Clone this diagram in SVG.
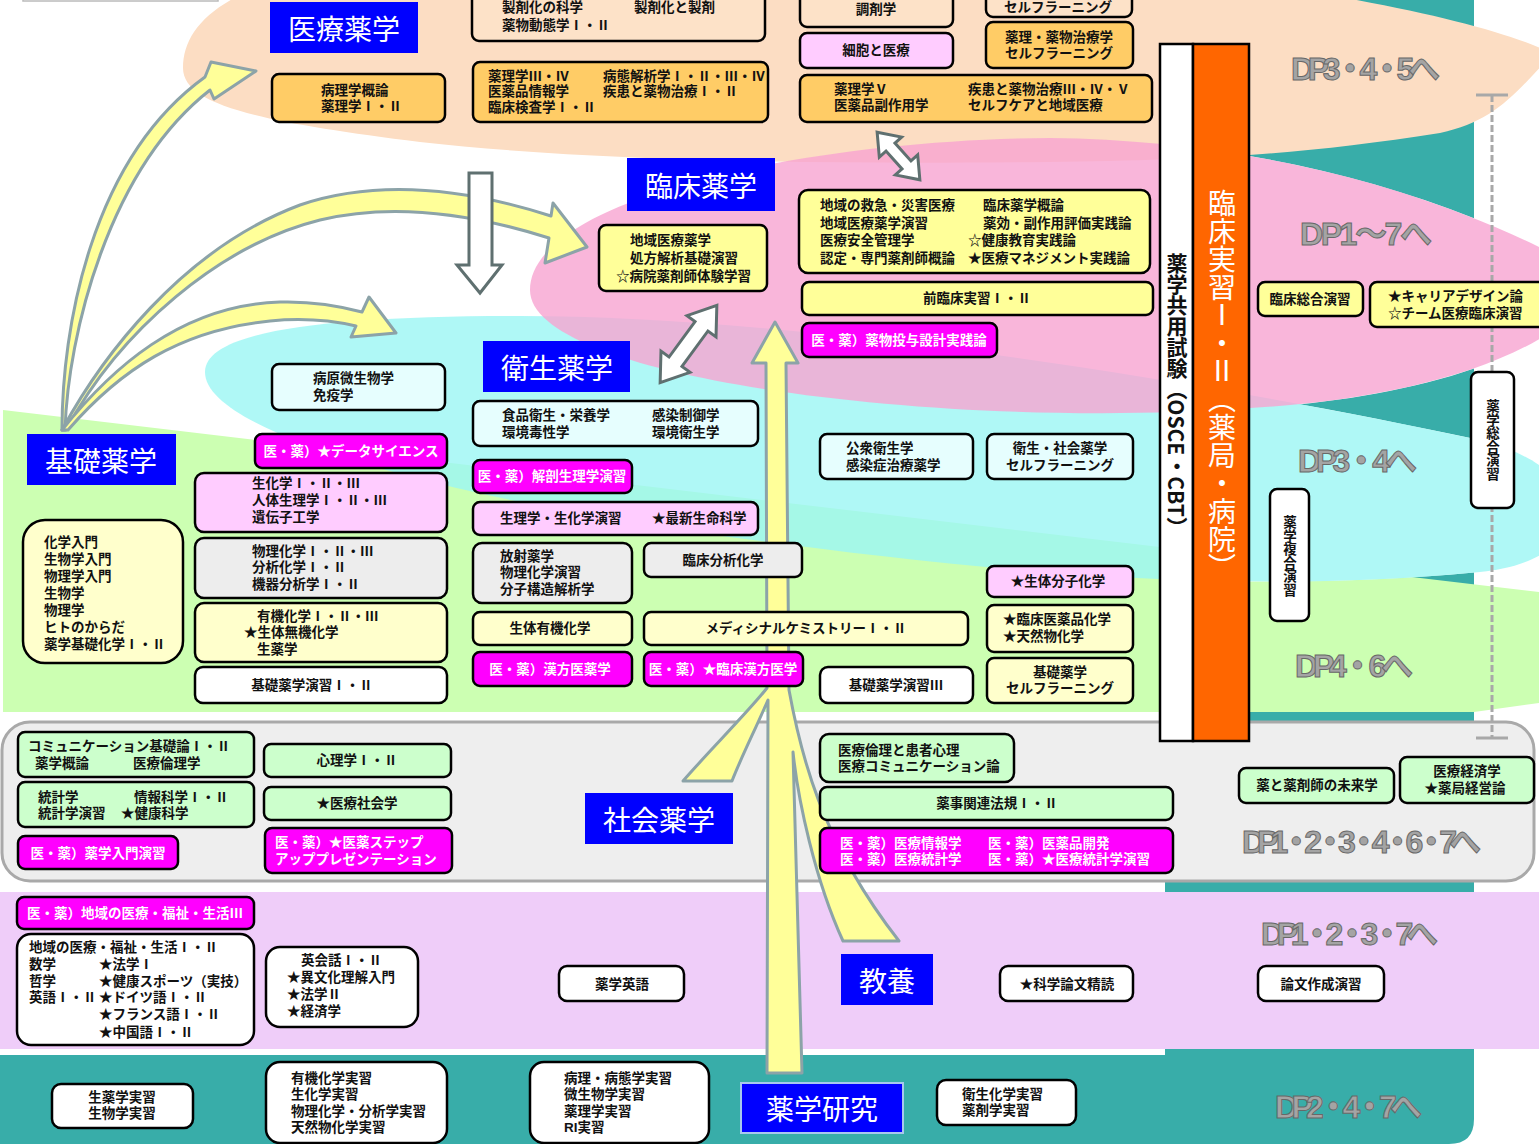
<svg xmlns="http://www.w3.org/2000/svg" width="1539" height="1144" viewBox="0 0 1539 1144">
<style>
.b{stroke:#000;stroke-width:2.5}
.or{fill:#FFCC66}.pe{fill:#FDE2C8}.pk{fill:#FFCCFF}.ye{fill:#FFFF99}.ly{fill:#FFFFCC}.lc{fill:#E6FEFE}.gy{fill:#EDEDED}.lg{fill:#CCFFCC}.wh{fill:#FFFFFF}.mg{fill:#FF00FF}
text{font-family:"Noto Sans CJK JP","Noto Sans CJK SC",sans-serif}
.t{font-family:"Liberation Sans","Noto Sans CJK JP","Noto Sans CJK SC",sans-serif;font-size:13.5px;font-weight:700;fill:#111;dominant-baseline:central}
.w{fill:#fff}
.m{text-anchor:middle}
.cat{fill:#0000FF}
.ct{font-size:28px;fill:#fff;text-anchor:middle;dominant-baseline:central}
.dp{font-family:"Liberation Sans","Noto Sans CJK JP",sans-serif;font-size:32px;font-weight:700;fill:#A4A4A4;stroke:#686868;stroke-width:1}
.ya{fill:#FFFF99;stroke:#8CA3A8;stroke-width:3;stroke-linejoin:round}
.ha{fill:#FFFFFF;stroke:#5F7070;stroke-width:3}
.vt{font-family:"Noto Sans CJK JP","Noto Sans CJK SC",sans-serif;writing-mode:vertical-rl;text-anchor:middle}
</style>
<defs>
  <clipPath id="col"><rect x="1165" y="0" width="309" height="1144"/></clipPath>
  <path id="cyanShape" d="M205,372 C205,330 330,316 520,316 C800,316 1200,380 1480,440 C1600,470 1600,560 1480,572 C1200,600 900,560 700,533 C500,505 205,440 205,372 Z"/>
  <path id="pinkShape" d="M530,290 C530,200 800,140 1050,138 C1250,140 1450,190 1600,280 C1560,360 1400,400 1250,408 C950,430 530,380 530,290 Z"/>
</defs>

<g id="background">
  <path d="M0,1055 H1165 V0 H1474 V1119 Q1474,1144 1449,1144 H0 Z" fill="#38ADA9"/>
  <path d="M3,410 L1539,592 L1539,703 L1474,712 L3,712 Z" fill="#CCFFB2"/>
  <path d="M183,68 C183,40 200,15 240,-5 L1300,-10 C1420,10 1500,30 1545,50 L1545,62 C1510,100 1490,122 1440,133 C1300,155 1200,160 1050,162 C800,165 580,160 420,142 C260,122 183,105 183,68 Z" fill="#FCDDC3"/>
  <g clip-path="url(#col)" fill="#FFFFFF"><use href="#cyanShape"/><use href="#pinkShape"/></g>
  <use href="#cyanShape" fill="#9BF6F4" opacity="0.8"/>
  <use href="#pinkShape" fill="#F7A4D1" opacity="0.8"/>
  <rect x="2" y="722" width="1532" height="159" rx="28" fill="#EEEEEE" stroke="#A9A9A9" stroke-width="3"/>
  <rect x="0" y="892" width="1539" height="157" fill="#EFCDF9"/>
  <rect x="23" y="-20" width="195" height="21" fill="#FFFFFF" stroke="#BBBBBB" stroke-width="1.5"/>
  <g stroke="#A8A8A8" stroke-width="3">
    <line x1="1492" y1="95" x2="1492" y2="738" stroke-dasharray="7 3"/>
    <line x1="1476" y1="95" x2="1508" y2="95"/>
    <line x1="1476" y1="738" x2="1508" y2="738"/>
  </g>
</g>

<g id="connectors">
  <path class="ya" d="M62,430 C62,330 90,160 205,77 L211,62 L256,71 L214,99 L210,90 C108,170 68,335 65,430 Z"/>
  <path class="ya" d="M62,430 C100,360 180,250 300,205 C380,178 470,190 551,216 L553,203 L587,247 L545,263 L549,238 C470,213 390,203 320,220 C220,245 120,330 66,430 Z"/>
  <path class="ya" d="M62,430 C110,370 180,305 280,302 C315,301 340,306 362,312 L369,297 L396,333 L351,337 L356,326 C330,320 300,318 270,321 C180,330 120,370 68,430 Z"/>
  <path class="ya" d="M775,322 L798,363 L786,363 L789,690 C800,750 820,840 899,941 L843,941 C815,880 798,800 793,752 L802,1073 L767,1073 L768,700 C755,730 740,760 732,781 L683,781 C710,750 750,710 767,688 L766,363 L752,363 Z"/>
  <path class="ha" d="M469,173 L492,173 L492,265 L502,265 L480,293 L457,265 L469,265 Z"/>
  <path class="ha" transform="translate(688.5,344) rotate(-53.8)" d="M-48,0 L-22,-18 L-22,-8 L22,-8 L22,-18 L48,0 L22,18 L22,8 L-22,8 L-22,18 Z"/>
  <path class="ha" transform="translate(898.5,156) rotate(48.1)" d="M-32,0 L-12,-15 L-12,-6 L12,-6 L12,-15 L32,0 L12,15 L12,6 L-12,6 L-12,15 Z"/>
</g>

<g id="n-label-iryo"><rect class="cat" x="270" y="2" width="148" height="51"/><text class="ct" x="344" y="28">医療薬学</text></g>
<g id="n-label-rinsho"><rect class="cat" x="627" y="158" width="148" height="53"/><text class="ct" x="701" y="185">臨床薬学</text></g>
<g id="n-label-eisei"><rect class="cat" x="483" y="341" width="147" height="51"/><text class="ct" x="557" y="367">衛生薬学</text></g>
<g id="n-label-kiso"><rect class="cat" x="27" y="434" width="149" height="51"/><text class="ct" x="101" y="460">基礎薬学</text></g>
<g id="n-label-shakai"><rect class="cat" x="585" y="793" width="148" height="51"/><text class="ct" x="659" y="819">社会薬学</text></g>
<g id="n-label-kyoyo"><rect class="cat" x="841" y="954" width="92" height="51"/><text class="ct" x="887" y="980">教養</text></g>
<g id="n-label-kenkyu"><rect class="cat" x="741" y="1083" width="162" height="50" stroke="#A8C8EE" stroke-width="2"/><text class="ct" x="822" y="1108">薬学研究</text></g>

<g id="n-seizai"><rect class="b pe" x="472" y="-14" width="293" height="55" rx="7"/>
<text class="t" x="502" y="7">製剤化の科学<tspan x="502" y="25">薬物動態学Ⅰ・Ⅱ</tspan></text><text class="t" x="634" y="7">製剤化と製剤</text></g>
<g id="n-chozai"><rect class="b pe" x="800" y="-14" width="153" height="41" rx="7"/><text class="t m" x="876" y="9">調剤学</text></g>
<g id="n-self-top"><rect class="b pe" x="986" y="-14" width="146" height="31" rx="7"/><text class="t m" x="1058" y="7">セルフラーニング</text></g>
<g id="n-saibo"><rect class="b pk" x="800" y="33" width="153" height="35" rx="7"/><text class="t m" x="876" y="50">細胞と医療</text></g>
<g id="n-yakuri-self"><rect class="b or" x="986" y="22" width="147" height="46" rx="7"/>
<text class="t m" x="1059" y="37">薬理・薬物治療学<tspan x="1059" y="53">セルフラーニング</tspan></text></g>
<g id="n-byori"><rect class="b or" x="272" y="74" width="173" height="48" rx="7"/>
<text class="t" x="321" y="90">病理学概論<tspan x="321" y="106">薬理学Ⅰ・Ⅱ</tspan></text></g>
<g id="n-yakuri34"><rect class="b or" x="473" y="62" width="295" height="60" rx="7"/>
<text class="t" x="488" y="76">薬理学Ⅲ・Ⅳ<tspan x="488" y="91">医薬品情報学</tspan><tspan x="488" y="107">臨床検査学Ⅰ・Ⅱ</tspan></text>
<text class="t" x="603" y="76">病態解析学Ⅰ・Ⅱ・Ⅲ・Ⅳ<tspan x="603" y="91">疾患と薬物治療Ⅰ・Ⅱ</tspan></text></g>
<g id="n-yakuri5"><rect class="b or" x="800" y="75" width="352" height="47" rx="7"/>
<text class="t" x="834" y="89">薬理学Ⅴ<tspan x="834" y="105">医薬品副作用学</tspan></text>
<text class="t" x="968" y="89">疾患と薬物治療Ⅲ・Ⅳ・Ⅴ<tspan x="968" y="105">セルフケアと地域医療</tspan></text></g>

<g id="n-chiiki-iryo"><rect class="b ye" x="599" y="225" width="168" height="66" rx="7"/>
<text class="t" x="630" y="240">地域医療薬学<tspan x="630" y="258">処方解析基礎演習</tspan><tspan x="616" y="276">☆病院薬剤師体験学習</tspan></text></g>
<g id="n-kyukyu"><rect class="b ye" x="799" y="190" width="351" height="83" rx="9"/>
<text class="t" x="820" y="205">地域の救急・災害医療<tspan x="820" y="223">地域医療薬学演習</tspan><tspan x="820" y="240">医療安全管理学</tspan><tspan x="820" y="258">認定・専門薬剤師概論</tspan></text>
<text class="t" x="983" y="205">臨床薬学概論<tspan x="983" y="223">薬効・副作用評価実践論</tspan><tspan x="968" y="240">☆健康教育実践論</tspan><tspan x="968" y="258">★医療マネジメント実践論</tspan></text></g>
<g id="n-zenrinsho"><rect class="b ye" x="802" y="282" width="351" height="33" rx="7"/><text class="t m" x="977" y="298">前臨床実習Ⅰ・Ⅱ</text></g>
<g id="n-toyo"><rect class="b mg" x="802" y="323" width="195" height="34" rx="7"/><text class="t m w" x="899" y="340">医・薬）薬物投与設計実践論</text></g>
<g id="n-rinsho-sogo"><rect class="b ye" x="1258" y="282" width="105" height="34" rx="7"/><text class="t m" x="1310" y="299">臨床総合演習</text></g>
<g id="n-career"><rect class="b ye" x="1370" y="282" width="185" height="45" rx="7"/>
<text class="t" x="1388" y="296">★キャリアデザイン論<tspan x="1388" y="313">☆チーム医療臨床演習</tspan></text></g>

<g id="n-byogen"><rect class="b lc" x="272" y="364" width="173" height="46" rx="7"/>
<text class="t" x="313" y="378">病原微生物学<tspan x="313" y="395">免疫学</tspan></text></g>
<g id="n-shokuhin"><rect class="b lc" x="473" y="401" width="285" height="45" rx="7"/>
<text class="t" x="502" y="415">食品衛生・栄養学<tspan x="502" y="432">環境毒性学</tspan></text>
<text class="t" x="652" y="415">感染制御学<tspan x="652" y="432">環境衛生学</tspan></text></g>
<g id="n-kaibo"><rect class="b mg" x="473" y="460" width="159" height="33" rx="7"/><text class="t m w" x="552" y="476">医・薬）解剖生理学演習</text></g>
<g id="n-koshu"><rect class="b lc" x="820" y="434" width="153" height="45" rx="7"/>
<text class="t" x="846" y="448">公衆衛生学<tspan x="846" y="465">感染症治療薬学</tspan></text></g>
<g id="n-eisei-self"><rect class="b lc" x="987" y="434" width="146" height="45" rx="7"/>
<text class="t m" x="1060" y="448">衛生・社会薬学<tspan x="1060" y="465">セルフラーニング</tspan></text></g>
<g id="n-data"><rect class="b mg" x="255" y="434" width="192" height="34" rx="7"/><text class="t m w" x="351" y="451">医・薬）★データサイエンス</text></g>

<g id="n-seika"><rect class="b pk" x="195" y="473" width="252" height="59" rx="9"/>
<text class="t" x="252" y="483">生化学Ⅰ・Ⅱ・Ⅲ<tspan x="252" y="500">人体生理学Ⅰ・Ⅱ・Ⅲ</tspan><tspan x="252" y="517">遺伝子工学</tspan></text></g>
<g id="n-seiri-en"><rect class="b pk" x="473" y="502" width="285" height="33" rx="7"/>
<text class="t" x="500" y="518">生理学・生化学演習</text><text class="t" x="652" y="518">★最新生命科学</text></g>
<g id="n-butsuri"><rect class="b gy" x="195" y="538" width="252" height="60" rx="9"/>
<text class="t" x="252" y="551">物理化学Ⅰ・Ⅱ・Ⅲ<tspan x="252" y="567">分析化学Ⅰ・Ⅱ</tspan><tspan x="252" y="584">機器分析学Ⅰ・Ⅱ</tspan></text></g>
<g id="n-hosha"><rect class="b gy" x="473" y="543" width="159" height="60" rx="9"/>
<text class="t" x="500" y="556">放射薬学<tspan x="500" y="572">物理化学演習</tspan><tspan x="500" y="589">分子構造解析学</tspan></text></g>
<g id="n-rinsho-bunseki"><rect class="b gy" x="644" y="543" width="158" height="34" rx="7"/><text class="t m" x="723" y="560">臨床分析化学</text></g>
<g id="n-yuki"><rect class="b ly" x="195" y="603" width="252" height="59" rx="9"/>
<text class="t" x="257" y="616">有機化学Ⅰ・Ⅱ・Ⅲ<tspan x="244" y="632">★生体無機化学</tspan><tspan x="257" y="649">生薬学</tspan></text></g>
<g id="n-kiso-en12"><rect class="b wh" x="195" y="667" width="252" height="36" rx="8"/><text class="t m" x="312" y="685">基礎薬学演習Ⅰ・Ⅱ</text></g>
<g id="n-nyumon"><rect class="b ly" x="23" y="520" width="160" height="143" rx="22"/>
<text class="t" x="44" y="542">化学入門<tspan x="44" y="559">生物学入門</tspan><tspan x="44" y="576">物理学入門</tspan><tspan x="44" y="593">生物学</tspan><tspan x="44" y="610">物理学</tspan><tspan x="44" y="627">ヒトのからだ</tspan><tspan x="44" y="644">薬学基礎化学Ⅰ・Ⅱ</tspan></text></g>
<g id="n-seitai-yuki"><rect class="b ly" x="473" y="612" width="159" height="33" rx="7"/><text class="t m" x="550" y="628">生体有機化学</text></g>
<g id="n-medicinal"><rect class="b ly" x="644" y="612" width="324" height="33" rx="7"/><text class="t m" x="806" y="628">メディシナルケミストリーⅠ・Ⅱ</text></g>
<g id="n-kampo"><rect class="b mg" x="473" y="652" width="159" height="34" rx="7"/><text class="t m w" x="550" y="669">医・薬）漢方医薬学</text></g>
<g id="n-rinsho-kampo"><rect class="b mg" x="644" y="652" width="159" height="34" rx="7"/><text class="t m w" x="723" y="669">医・薬）★臨床漢方医学</text></g>
<g id="n-kiso-en3"><rect class="b wh" x="820" y="667" width="153" height="36" rx="8"/><text class="t m" x="896" y="685">基礎薬学演習Ⅲ</text></g>
<g id="n-seitai-bunshi"><rect class="b pk" x="987" y="566" width="146" height="31" rx="7"/><text class="t m" x="1058" y="581">★生体分子化学</text></g>
<g id="n-rinsho-iyakuhin"><rect class="b ly" x="987" y="605" width="146" height="47" rx="7"/>
<text class="t" x="1003" y="619">★臨床医薬品化学<tspan x="1003" y="636">★天然物化学</tspan></text></g>
<g id="n-kiso-self"><rect class="b ly" x="987" y="658" width="146" height="45" rx="7"/>
<text class="t m" x="1060" y="672">基礎薬学<tspan x="1060" y="688">セルフラーニング</tspan></text></g>
<g id="n-fukugo"><rect class="b wh" x="1270" y="489" width="39" height="132" rx="7"/><text class="vt" x="1290" y="556" style="font-size:13.5px;font-weight:700;fill:#111">薬学複合演習</text></g>
<g id="n-sogo-en"><rect class="b wh" x="1471" y="372" width="43" height="136" rx="7"/><text class="vt" x="1493" y="440" style="font-size:13.5px;font-weight:700;fill:#111">薬学総合演習</text></g>

<g id="n-comm"><rect class="b lg" x="18" y="732" width="236" height="45" rx="7"/>
<text class="t" x="28" y="746">コミュニケーション基礎論Ⅰ・Ⅱ<tspan x="35" y="763">薬学概論</tspan></text><text class="t" x="133" y="763">医療倫理学</text></g>
<g id="n-tokei"><rect class="b lg" x="18" y="782" width="236" height="45" rx="7"/>
<text class="t" x="38" y="797">統計学<tspan x="38" y="813">統計学演習</tspan></text>
<text class="t" x="134" y="797">情報科学Ⅰ・Ⅱ<tspan x="121" y="813">★健康科学</tspan></text></g>
<g id="n-nyumon-en"><rect class="b mg" x="18" y="836" width="160" height="33" rx="7"/><text class="t m w" x="98" y="853">医・薬）薬学入門演習</text></g>
<g id="n-shinri"><rect class="b lg" x="264" y="744" width="187" height="33" rx="7"/><text class="t m" x="357" y="760">心理学Ⅰ・Ⅱ</text></g>
<g id="n-iryo-shakai"><rect class="b lg" x="264" y="787" width="187" height="33" rx="7"/><text class="t m" x="357" y="803">★医療社会学</text></g>
<g id="n-step"><rect class="b mg" x="265" y="828" width="187" height="45" rx="7"/>
<text class="t w" x="275" y="842">医・薬）★医薬ステップ<tspan x="275" y="859">アッププレゼンテーション</tspan></text></g>
<g id="n-rinri"><rect class="b lg" x="820" y="734" width="194" height="48" rx="9"/>
<text class="t" x="838" y="750">医療倫理と患者心理<tspan x="838" y="766">医療コミュニケーション論</tspan></text></g>
<g id="n-hoki"><rect class="b lg" x="820" y="787" width="353" height="33" rx="7"/><text class="t m" x="997" y="803">薬事関連法規Ⅰ・Ⅱ</text></g>
<g id="n-joho"><rect class="b mg" x="820" y="828" width="353" height="45" rx="7"/>
<text class="t w" x="840" y="843">医・薬）医療情報学<tspan x="840" y="859">医・薬）医療統計学</tspan></text>
<text class="t w" x="988" y="843">医・薬）医薬品開発<tspan x="988" y="859">医・薬）★医療統計学演習</tspan></text></g>
<g id="n-mirai"><rect class="b lg" x="1239" y="768" width="155" height="35" rx="7"/><text class="t m" x="1317" y="785">薬と薬剤師の未来学</text></g>
<g id="n-keizai"><rect class="b lg" x="1400" y="757" width="134" height="46" rx="7"/>
<text class="t m" x="1467" y="771">医療経済学<tspan x="1465" y="788">★薬局経営論</tspan></text></g>

<g id="n-chiiki3"><rect class="b mg" x="17" y="897" width="237" height="32" rx="7"/><text class="t w" x="27" y="913">医・薬）地域の医療・福祉・生活Ⅲ</text></g>
<g id="n-kyoyo-list"><rect class="b wh" x="17" y="934" width="237" height="111" rx="14"/>
<text class="t" x="29" y="947">地域の医療・福祉・生活Ⅰ・Ⅱ<tspan x="29" y="964">数学</tspan><tspan x="29" y="981">哲学</tspan><tspan x="29" y="997">英語Ⅰ・Ⅱ</tspan></text>
<text class="t" x="99" y="964">★法学Ⅰ<tspan x="99" y="981">★健康スポーツ（実技）</tspan><tspan x="99" y="997">★ドイツ語Ⅰ・Ⅱ</tspan><tspan x="99" y="1014">★フランス語Ⅰ・Ⅱ</tspan><tspan x="99" y="1032">★中国語Ⅰ・Ⅱ</tspan></text></g>
<g id="n-eikaiwa"><rect class="b wh" x="266" y="947" width="152" height="80" rx="14"/>
<text class="t" x="301" y="960">英会話Ⅰ・Ⅱ<tspan x="287" y="977">★異文化理解入門</tspan><tspan x="287" y="994">★法学Ⅱ</tspan><tspan x="287" y="1011">★経済学</tspan></text></g>
<g id="n-yakugaku-eigo"><rect class="b wh" x="559" y="966" width="125" height="35" rx="8"/><text class="t m" x="622" y="984">薬学英語</text></g>
<g id="n-ronbun-seidoku"><rect class="b wh" x="1000" y="966" width="133" height="35" rx="8"/><text class="t m" x="1067" y="984">★科学論文精読</text></g>
<g id="n-ronbun-sakusei"><rect class="b wh" x="1258" y="966" width="126" height="35" rx="8"/><text class="t m" x="1321" y="984">論文作成演習</text></g>

<g id="n-shoyaku-jisshu"><rect class="b wh" x="52" y="1084" width="141" height="44" rx="9"/>
<text class="t m" x="122" y="1097">生薬学実習<tspan x="122" y="1113">生物学実習</tspan></text></g>
<g id="n-yuki-jisshu"><rect class="b wh" x="266" y="1062" width="181" height="81" rx="14"/>
<text class="t" x="291" y="1078">有機化学実習<tspan x="291" y="1094">生化学実習</tspan><tspan x="291" y="1111">物理化学・分析学実習</tspan><tspan x="291" y="1127">天然物化学実習</tspan></text></g>
<g id="n-byori-jisshu"><rect class="b wh" x="530" y="1062" width="179" height="81" rx="14"/>
<text class="t" x="564" y="1078">病理・病態学実習<tspan x="564" y="1094">微生物学実習</tspan><tspan x="564" y="1111">薬理学実習</tspan><tspan x="564" y="1127">RI実習</tspan></text></g>
<g id="n-eisei-jisshu"><rect class="b wh" x="937" y="1080" width="139" height="45" rx="9"/>
<text class="t" x="962" y="1094">衛生化学実習<tspan x="962" y="1110">薬剤学実習</tspan></text></g>

<g id="n-kyoyo-shiken"><rect x="1160" y="44" width="33" height="697" fill="#FFFFFF" stroke="#000" stroke-width="2.5"/>
<text class="vt" x="1177" y="395" style="font-size:21px;font-weight:700;fill:#111">薬学共用試験（OSCE・CBT）</text></g>
<g id="n-rinsho-jisshu"><rect x="1193" y="44" width="56" height="697" fill="#FF6600" stroke="#000" stroke-width="2.5"/>
<text class="vt" x="1222" y="385" style="font-size:28px;fill:#fff">臨床実習Ⅰ・Ⅱ（薬局・病院）</text></g>

<g id="dp-labels">
<text class="dp" x="1291" y="80" textLength="149" lengthAdjust="spacing">DP3・4・5へ</text>
<text class="dp" x="1300" y="245" textLength="132" lengthAdjust="spacing">DP1～7へ</text>
<text class="dp" x="1298" y="472" textLength="119" lengthAdjust="spacing">DP3・4へ</text>
<text class="dp" x="1295" y="677" textLength="118" lengthAdjust="spacing">DP4・6へ</text>
<text class="dp" x="1242" y="853" textLength="239" lengthAdjust="spacing">DP1・2・3・4・6・7へ</text>
<text class="dp" x="1261" y="945" textLength="177" lengthAdjust="spacing">DP1・2・3・7へ</text>
<text class="dp" x="1275" y="1118" textLength="147" lengthAdjust="spacing">DP2・4・7へ</text>
</g>
</svg>
